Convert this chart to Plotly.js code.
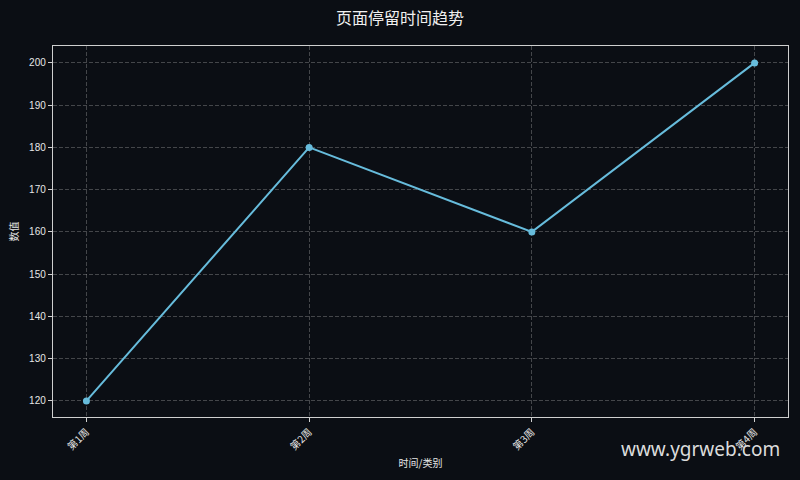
<!DOCTYPE html>
<html>
<head>
<meta charset="utf-8">
<script src="https://cdn.plot.ly/plotly-3.0.1.min.js"></script>
<style>
  html, body { margin: 0; padding: 0; background: #0b0e14; }
  #chart { width: 800px; height: 480px; }
</style>
</head>
<body>
<div id="chart"></div>
<script>
const weeks = ["第1周", "第2周", "第3周", "第4周"];
const stayTime = [120, 180, 160, 200];

const font = "'Noto Sans CJK SC', 'DejaVu Sans', sans-serif";
const gridColor = "rgba(200,200,200,0.38)";

const data = [
  {
    x: weeks,
    y: stayTime,
    mode: "lines+markers",
    type: "scatter",
    line: { color: "#67bcdc", width: 2 },
    marker: { color: "#67bcdc", size: 7 },
    hoverinfo: "x+y",
  },
];

const layout = {
  width: 800,
  height: 480,
  paper_bgcolor: "#0b0e14",
  plot_bgcolor: "#0b0e14",
  margin: { l: 53, r: 12, t: 46, b: 63 },
  showlegend: false,
  font: { family: font, color: "#e6e6e6", size: 10 },
  title: {
    text: "页面停留时间趋势",
    font: { family: font, size: 16, color: "#f0f0f0" },
    x: 0.5,
    xanchor: "center",
    y: 0.962,
    yanchor: "middle",
  },
  xaxis: {
    type: "category",
    range: [-0.15, 3.15],
    tickangle: -45,
    ticks: "outside",
    ticklen: 4,
    tickcolor: "#d0d0d0",
    showgrid: true,
    gridcolor: gridColor,
    griddash: "4px,2px",
    gridwidth: 0.8,
    showline: true,
    linecolor: "#cfcfcf",
    linewidth: 1.2,
    mirror: true,
    zeroline: false,
    tickfont: { size: 10, color: "#e6e6e6" },
    title: { text: "时间/类别", font: { size: 10, color: "#e6e6e6" }, standoff: 8 },
  },
  yaxis: {
    range: [116.2, 204.0],
    tickvals: [120, 130, 140, 150, 160, 170, 180, 190, 200],
    ticks: "outside",
    ticklen: 4,
    tickcolor: "#d0d0d0",
    showgrid: true,
    gridcolor: gridColor,
    griddash: "4px,2px",
    gridwidth: 0.8,
    showline: true,
    linecolor: "#cfcfcf",
    linewidth: 1.2,
    mirror: true,
    zeroline: false,
    tickfont: { family: "'Liberation Sans', 'DejaVu Sans', sans-serif", size: 10, color: "#e6e6e6" },
    title: { text: "数值", font: { size: 10, color: "#e6e6e6" }, standoff: 8 },
  },
  annotations: [
    {
      text: "www.ygrweb.com",
      xref: "paper",
      yref: "paper",
      x: 1.0,
      y: -0.085,
      xshift: -6,
      xanchor: "right",
      yanchor: "middle",
      showarrow: false,
      font: { family: "'Noto Sans', 'Open Sans', sans-serif", size: 19, color: "#dcdcdc" },
    },
  ],
};

Plotly.newPlot("chart", data, layout, { displayModeBar: false, staticPlot: true });
</script>
</body>
</html>
